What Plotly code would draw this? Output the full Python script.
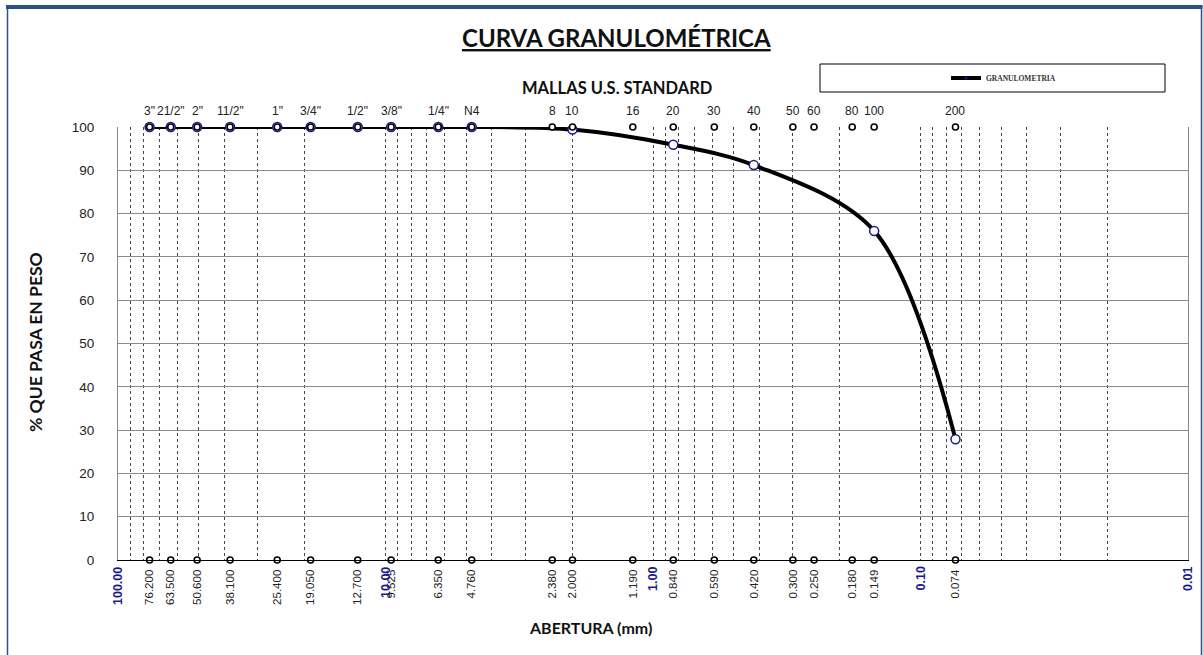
import numpy as np
import plotly.graph_objects as go

# ---------------- data ----------------
sieve_names = ['3"', '21/2"', '2"', '11/2"', '1"', '3/4"', '1/2"', '3/8"', '1/4"', 'N4',
               '8', '10', '16', '20', '30', '40', '50', '60', '80', '100', '200']
sieve_openings = [76.2, 63.5, 50.6, 38.1, 25.4, 19.05, 12.7, 9.525, 6.35, 4.76,
                  2.38, 2.0, 1.19, 0.84, 0.59, 0.42, 0.30, 0.25, 0.18, 0.149, 0.074]
opening_labels = ['76.200', '63.500', '50.600', '38.100', '25.400', '19.050', '12.700', '9.525',
                  '6.350', '4.760', '2.380', '2.000', '1.190', '0.840', '0.590', '0.420',
                  '0.300', '0.250', '0.180', '0.149', '0.074']

curve_openings = [76.2, 63.5, 50.6, 38.1, 25.4, 19.05, 12.7, 9.525, 6.35, 4.76,
                  2.0, 0.84, 0.42, 0.149, 0.074]
curve_passing = [100, 100, 100, 100, 100, 100, 100, 100, 100, 100,
                 99.4, 95.9, 91.2, 76.0, 27.9]

decade_values = [100, 10, 1, 0.1, 0.01]
decade_labels = ['100.00', '10.00', '1.00', '0.10', '0.01']

top_row = [100] * len(sieve_openings)
bottom_row = [0] * len(sieve_openings)

# ---------------- geometry helpers (plot area in px) ----------------
W, H = 1203, 655
L, R, T, B = 118, 1188, 127, 560
PW, PH = R - L, B - T


def px_x(p):
    return (p - L) / PW


def px_y(p):
    return (B - p) / PH


minor_grid = [m * 10.0 ** e for e in range(-2, 2) for m in range(1, 10)] + [100]

FRAME = '#2E5088'
NAVY = '#1A1A8C'

fig = go.Figure()

# smoothed curve (legend entry)
fig.add_trace(go.Scatter(
    x=curve_openings, y=curve_passing, mode='lines+markers', name='<b>GRANULOMETRIA</b>',
    line=dict(color='black', width=4, shape='spline', smoothing=0.95),
    marker=dict(size=3, color=NAVY), cliponaxis=False, hoverinfo='skip'))

# data points
fig.add_trace(go.Scatter(
    x=curve_openings, y=curve_passing, mode='markers', showlegend=False,
    marker=dict(size=9, color='white', line=dict(color=NAVY, width=1.5)),
    cliponaxis=False))

# sieve marker rows
fig.add_trace(go.Scatter(
    x=sieve_openings, y=top_row, mode='markers', showlegend=False,
    marker=dict(size=6, color='white', line=dict(color='black', width=1.6)),
    cliponaxis=False))
fig.add_trace(go.Scatter(
    x=sieve_openings, y=bottom_row, mode='markers', showlegend=False,
    marker=dict(size=6, color='white', line=dict(color='black', width=1.6)),
    cliponaxis=False))

xrange = [np.log10(100), np.log10(0.01)]

fig.update_layout(
    width=W, height=H,
    margin=dict(l=L, r=W - R, t=T, b=H - B, autoexpand=False),
    paper_bgcolor='white', plot_bgcolor='white',
    font=dict(family='Arial, Liberation Sans, sans-serif', color='black', size=12),
    xaxis=dict(
        type='log', range=xrange, showgrid=False, zeroline=False, automargin=False,
        tickmode='array', tickvals=sieve_openings, ticktext=opening_labels,
        tickangle=-90, ticks='', ticklabelstandoff=4,
        tickfont=dict(size=11.5, color='#222222'),
        showline=True, linecolor='black', linewidth=1.2,
        minor=dict(tickmode='array', tickvals=minor_grid, showgrid=True,
                   gridcolor='#444444', griddash='dot', gridwidth=1, ticks=''),
    ),
    yaxis=dict(
        range=[0, 100], tickmode='array', tickvals=list(range(0, 101, 10)),
        showgrid=True, gridcolor='#8A8A8A', gridwidth=1.2, zeroline=False, automargin=False,
        ticks='', ticklabelstandoff=20, tickfont=dict(size=13.5, color='#222222'),
        showline=True, mirror=True, linecolor='#8A8A8A', linewidth=1.2,
    ),
    legend=dict(
        x=px_x(946), y=px_y(78), xanchor='left', yanchor='middle',
        bgcolor='rgba(0,0,0,0)', borderwidth=0,
        font=dict(family='Liberation Serif, serif', size=7.5, color='#333333'),
        itemwidth=30,
    ),
    showlegend=True,
)

annotations = []
# sieve names along the top
for v, t in zip(sieve_openings, sieve_names):
    annotations.append(dict(
        x=np.log10(v), xref='x', y=1, yref='paper', yanchor='bottom', xanchor='center',
        yshift=7, showarrow=False, text=t, font=dict(size=12, color='#222222')))
# decade labels at the bottom
for v, t in zip(decade_values, decade_labels):
    annotations.append(dict(
        x=np.log10(v), xref='x', y=0, yref='paper', yanchor='top', xanchor='center',
        yshift=-5, textangle=-90, showarrow=False,
        text='<b>' + t + '</b>', font=dict(size=12.5, color=NAVY)))

annotations += [
    dict(x=px_x(616), y=px_y(37), xref='paper', yref='paper', showarrow=False,
         text='<b><u>CURVA GRANULOMÉTRICA</u></b>', xanchor='center', yanchor='middle',
         font=dict(family='Lato, sans-serif', size=24, color='#111111')),
    dict(x=px_x(617), y=px_y(88), xref='paper', yref='paper', showarrow=False,
         text='<b>MALLAS U.S. STANDARD</b>', xanchor='center', yanchor='middle',
         font=dict(family='Lato, sans-serif', size=16.5, color='#111111')),
    dict(x=px_x(590), y=px_y(627), xref='paper', yref='paper', showarrow=False,
         text='<b>ABERTURA (mm)</b>', xanchor='center', yanchor='middle',
         font=dict(family='Lato, sans-serif', size=16, color='#111111')),
    dict(x=px_x(35), y=px_y(342), xref='paper', yref='paper', showarrow=False,
         text='<b>% QUE PASA EN PESO</b>', xanchor='center', yanchor='middle', textangle=-90,
         font=dict(family='Lato, sans-serif', size=17.5, color='#111111')),
]
fig.update_layout(annotations=annotations)

shapes = [
    # legend box
    dict(type='rect', xref='paper', yref='paper',
         x0=px_x(820), x1=px_x(1165), y0=px_y(92), y1=px_y(64),
         line=dict(color='black', width=1), fillcolor='rgba(0,0,0,0)'),
    # outer frame
    dict(type='line', xref='paper', yref='paper', x0=px_x(6), x1=px_x(1202.5),
         y0=px_y(7), y1=px_y(7), line=dict(color=FRAME, width=4)),
    dict(type='line', xref='paper', yref='paper', x0=px_x(7.5), x1=px_x(7.5),
         y0=px_y(6), y1=px_y(660), line=dict(color=FRAME, width=1.5)),
    dict(type='line', xref='paper', yref='paper', x0=px_x(1201.5), x1=px_x(1201.5),
         y0=px_y(6), y1=px_y(660), line=dict(color=FRAME, width=1.5)),
]
fig.update_layout(shapes=shapes)

fig.write_html('out.html', config={'displayModeBar': False},
               post_script="document.body.style.margin='0px';document.body.style.overflow='hidden';")
